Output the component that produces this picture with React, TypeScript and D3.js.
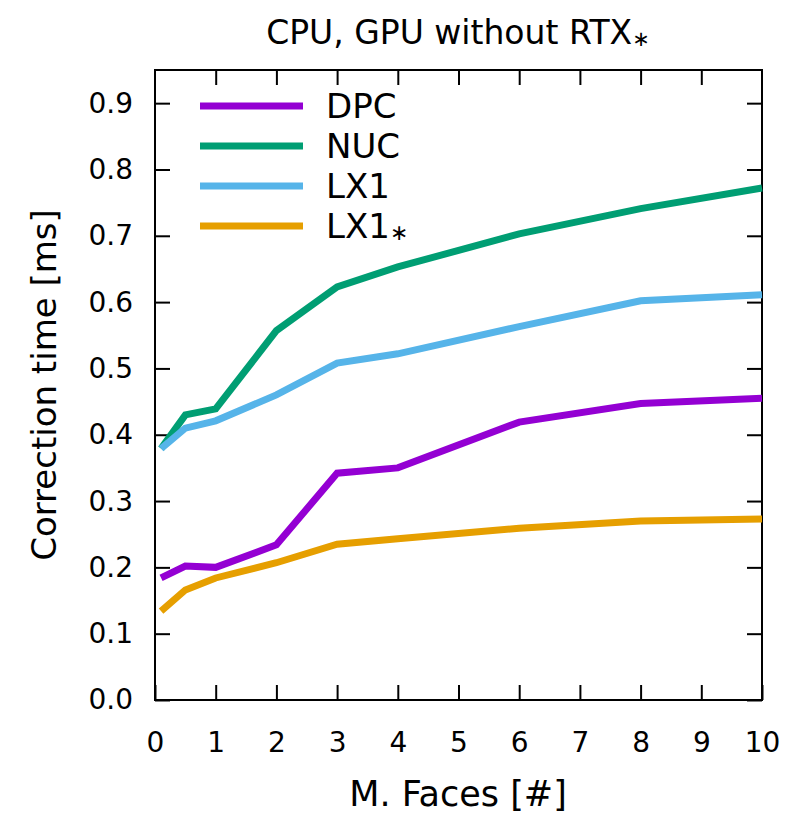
import * as d3 from 'd3';
import {useEffect, useRef} from 'react';

const width = 797;
const height = 823;

const faces = [0.1, 0.5, 1, 2, 3, 4, 6, 8, 10];
const dpc = [0.184, 0.202, 0.2, 0.234, 0.342, 0.35, 0.419, 0.447, 0.455];
const nuc = [0.379, 0.43, 0.439, 0.557, 0.623, 0.653, 0.703, 0.741, 0.772];
const lx1 = [0.379, 0.41, 0.421, 0.46, 0.508, 0.522, 0.563, 0.602, 0.611];
const lx1star = [0.134, 0.166, 0.184, 0.207, 0.235, 0.243, 0.259, 0.27, 0.273];

const seriesNames = ['DPC', 'NUC', 'LX1', 'LX1'];
const seriesStar = [false, false, false, true];
const seriesColors = ['#9400d3', '#009e73', '#56b4e9', '#e69f00'];
const seriesValues = [dpc, nuc, lx1, lx1star];

const xTicks = [0, 1, 2, 3, 4, 5, 6, 7, 8, 9, 10];
const yTicks = [0, 0.1, 0.2, 0.3, 0.4, 0.5, 0.6, 0.7, 0.8, 0.9];

const margin = {left: 155, right: 35, top: 70, bottom: 123};
const font = '"DejaVu Sans", sans-serif';

function App() {
  const ref = useRef<HTMLDivElement>(null);

  useEffect(() => {
    const x = d3
      .scaleLinear()
      .domain([0, 10])
      .range([margin.left, width - margin.right]);
    const y = d3
      .scaleLinear()
      .domain([0, 0.95])
      .range([height - margin.bottom, margin.top]);

    const svg = d3
      .select(ref.current)
      .append('svg')
      .attr('width', width)
      .attr('height', height)
      .style('position', 'absolute')
      .style('left', 0)
      .style('top', 0)
      .style('background', '#fff')
      .style('font-family', font);

    const styleAxis = (g, labels) => {
      g.select('.domain').remove();
      g.selectAll('line').attr('stroke', '#000').attr('stroke-width', 2);
      g.selectAll('text')
        .attr('font-size', 28)
        .attr('font-family', font)
        .attr('fill', '#000');
      if (!labels) g.selectAll('text').remove();
    };

    svg
      .append('g')
      .attr('transform', `translate(${margin.left},0)`)
      .call(
        d3.axisLeft(y).tickValues(yTicks).tickSize(-15).tickPadding(22).tickFormat(d3.format('.1f'))
      )
      .call(g => styleAxis(g, true));
    svg
      .append('g')
      .attr('transform', `translate(${width - margin.right},0)`)
      .call(d3.axisRight(y).tickValues(yTicks).tickSize(-15))
      .call(g => styleAxis(g, false));
    svg
      .append('g')
      .attr('transform', `translate(0,${height - margin.bottom})`)
      .call(d3.axisBottom(x).tickValues(xTicks).tickSize(-15).tickPadding(32).tickFormat(d3.format('d')))
      .call(g => styleAxis(g, true));
    svg
      .append('g')
      .attr('transform', `translate(0,${margin.top})`)
      .call(d3.axisTop(x).tickValues(xTicks.slice(1, -1)).tickSize(-15))
      .call(g => styleAxis(g, false));

    svg
      .append('rect')
      .attr('x', margin.left)
      .attr('y', margin.top)
      .attr('width', width - margin.left - margin.right)
      .attr('height', height - margin.top - margin.bottom)
      .attr('fill', 'none')
      .attr('stroke', '#000')
      .attr('stroke-width', 2);

    const line = d3
      .line<number>()
      .x((d, i) => x(faces[i]))
      .y(d => y(d));

    seriesValues.forEach((vals, k) => {
      svg
        .append('path')
        .datum(vals)
        .attr('fill', 'none')
        .attr('stroke', seriesColors[k])
        .attr('stroke-width', 7)
        .attr('stroke-linejoin', 'miter')
        .attr('d', line);
    });

    // legend
    const leg = svg.append('g');
    seriesNames.forEach((name, k) => {
      const ly = 106 + k * 40;
      leg
        .append('line')
        .attr('x1', 200)
        .attr('x2', 303)
        .attr('y1', ly)
        .attr('y2', ly)
        .attr('stroke', seriesColors[k])
        .attr('stroke-width', 7);
      const t = leg
        .append('text')
        .attr('x', 326)
        .attr('y', ly)
        .attr('dy', '0.36em')
        .attr('font-size', 34)
        .text(name);
      if (seriesStar[k]) {
        t.append('tspan').attr('font-size', 22).attr('dy', 2).text('∗');
      }
    });

    const title = svg
      .append('text')
      .attr('x', 458)
      .attr('y', 44)
      .attr('text-anchor', 'middle')
      .attr('font-size', 33)
      .text('CPU, GPU without RTX');
    title.append('tspan').attr('font-size', 21).attr('dy', 2).text('∗');

    svg
      .append('text')
      .attr('x', 458)
      .attr('y', 806)
      .attr('text-anchor', 'middle')
      .attr('font-size', 35)
      .text('M. Faces [#]');

    svg
      .append('text')
      .attr('transform', `translate(56,385) rotate(-90)`)
      .attr('text-anchor', 'middle')
      .attr('font-size', 34)
      .text('Correction time [ms]');

    return () => svg.remove();
  }, []);

  return <div ref={ref}></div>;
}

export default App;
